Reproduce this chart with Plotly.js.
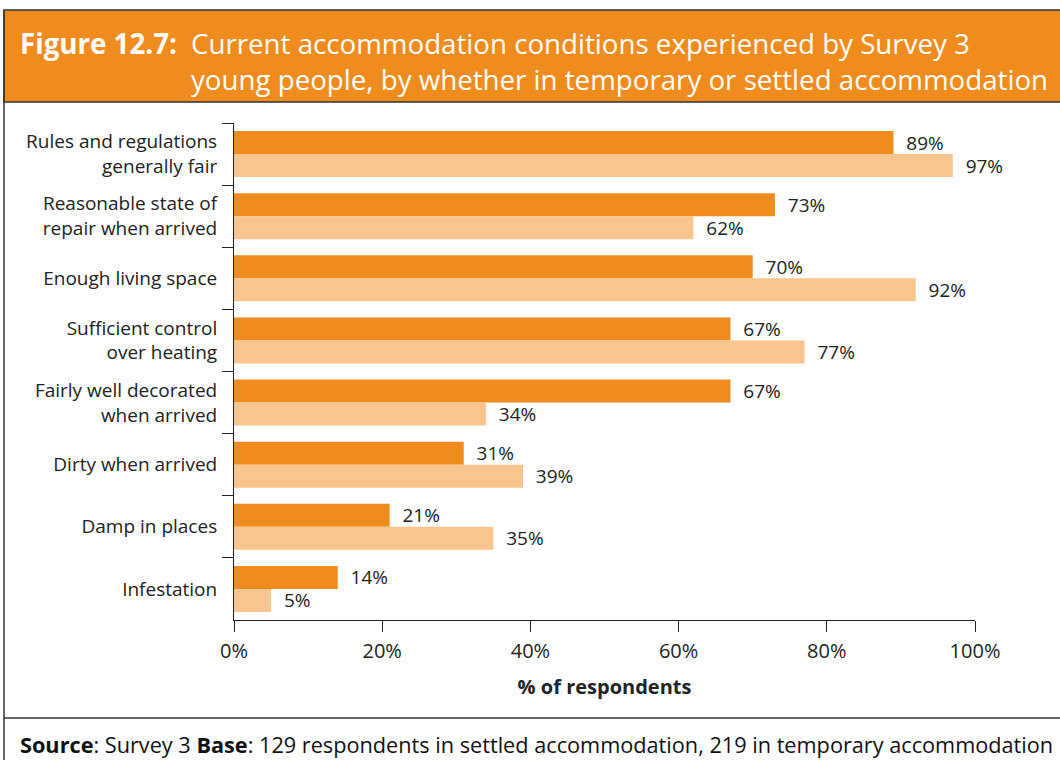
<!DOCTYPE html>
<html>
<head>
<meta charset="utf-8">
<script src="https://cdn.plot.ly/plotly-3.0.1.min.js"></script>
<style>
  html, body { margin: 0; padding: 0; background: #fff; }
  #chart { width: 1060px; height: 760px; }
</style>
</head>
<body>
<div id="chart"></div>
<script>
const categories = [
  "Rules and regulations<br>generally fair",
  "Reasonable state of<br>repair when arrived",
  "Enough living space",
  "Sufficient control<br>over heating",
  "Fairly well decorated<br>when arrived",
  "Dirty when arrived",
  "Damp in places",
  "Infestation"
];
const temporaryValues = [89, 73, 70, 67, 67, 31, 21, 14];
const settledValues   = [97, 62, 92, 77, 34, 39, 35, 5];
const xTickValues = [0, 20, 40, 60, 80, 100];
const xTickLabels = ["0%", "20%", "40%", "60%", "80%", "100%"];

const W = 1060, H = 760;
const PL = 234, PR = 975, PT = 123, PB = 620;
const px = x => (x - PL) / (PR - PL);
const py = y => (PB - y) / (PB - PT);

const bodyFont = "Open Sans, Noto Sans, sans-serif";
const titleFont = "Open Sans, Noto Sans, sans-serif";
const gap = "\u00a0\u00a0";

const traces = [
  {
    type: "bar", orientation: "h", name: "Temporary accommodation",
    y: categories, x: temporaryValues,
    marker: { color: "#F08C1E" },
    text: temporaryValues.map(v => gap + v + "%"),
    textposition: "outside", cliponaxis: false, constraintext: "none",
    textfont: { family: bodyFont, size: 19, color: "#222" },
    hoverinfo: "x+y"
  },
  {
    type: "bar", orientation: "h", name: "Settled accommodation",
    y: categories, x: settledValues,
    marker: { color: "#F8C58E" },
    text: settledValues.map(v => gap + v + "%"),
    textposition: "outside", cliponaxis: false, constraintext: "none",
    textfont: { family: bodyFont, size: 19, color: "#222" },
    hoverinfo: "x+y"
  }
];

const layout = {
  width: W, height: H,
  margin: { l: PL, r: W - PR, t: PT, b: H - PB, pad: 0 },
  paper_bgcolor: "#fff", plot_bgcolor: "#fff",
  showlegend: false,
  barmode: "group", bargap: 0.26, bargroupgap: 0,
  font: { family: bodyFont, color: "#222" },
  xaxis: {
    range: [0, 100], tickvals: xTickValues, ticktext: xTickLabels,
    showgrid: false, zeroline: false,
    showline: true, linecolor: "#222", linewidth: 1,
    ticks: "outside", ticklen: 11, tickcolor: "#222", tickwidth: 1,
    tickfont: { family: bodyFont, size: 20, color: "#222" },
    ticklabelstandoff: 2,
    title: { text: "<b>% of respondents</b>", font: { family: bodyFont, size: 20, color: "#222" }, standoff: 16 },
    fixedrange: true
  },
  yaxis: {
    type: "category", autorange: "reversed",
    showgrid: false, zeroline: false,
    showline: true, linecolor: "#222", linewidth: 1,
    ticks: "outside", tickson: "boundaries", ticklen: 11, tickcolor: "#222", tickwidth: 1,
    tickfont: { family: bodyFont, size: 19, color: "#222" },
    ticklabelstandoff: 12,
    fixedrange: true
  },
  shapes: [
    { type: "rect", xref: "paper", yref: "paper", x0: px(4), x1: px(1070), y0: py(102), y1: py(10),
      fillcolor: "#F08C1E", line: { color: "#333", width: 1.5 }, layer: "below" },
    { type: "line", xref: "paper", yref: "paper", x0: px(4), x1: px(4), y0: py(10), y1: py(770),
      line: { color: "#333", width: 1.5 } },
    { type: "line", xref: "paper", yref: "paper", x0: px(4), x1: px(1070), y0: py(718), y1: py(718),
      line: { color: "#333", width: 1.5 } }
  ],
  annotations: [
    { xref: "paper", yref: "paper", x: px(18), y: py(43), xanchor: "left", yanchor: "middle",
      text: "<b>Figure 12.7:</b>", showarrow: false,
      font: { family: titleFont, size: 27.7, color: "#fff" } },
    { xref: "paper", yref: "paper", x: px(189), y: py(60.5), xanchor: "left", yanchor: "middle", align: "left",
      text: "Current accommodation conditions experienced by Survey 3<br>young people, by whether in temporary or settled accommodation",
      showarrow: false,
      font: { family: titleFont, size: 27.7, color: "#fff" } },
    { xref: "paper", yref: "paper", x: px(18), y: py(744), xanchor: "left", yanchor: "middle",
      text: "<b>Source</b>: Survey 3 <b>Base</b>: 129 respondents in settled accommodation, 219 in temporary accommodation",
      showarrow: false, font: { family: bodyFont, size: 21.7, color: "#111" } }
  ]
};

Plotly.newPlot("chart", traces, layout, { displayModeBar: false });
</script>
</body>
</html>
